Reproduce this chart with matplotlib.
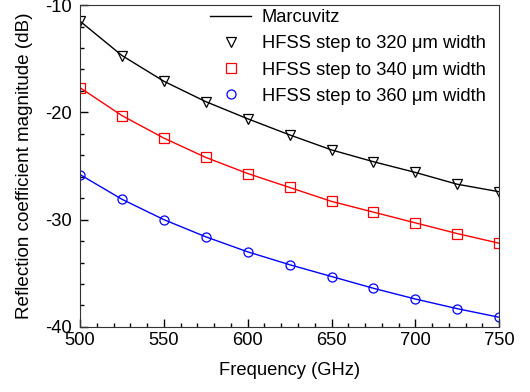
import numpy as np
import matplotlib.pyplot as plt
from matplotlib.ticker import MultipleLocator

plt.rcParams['font.family'] = ['Liberation Sans', 'DejaVu Sans']
plt.rcParams['axes.unicode_minus'] = False

freq = [500, 525, 550, 575, 600, 625, 650, 675, 700, 725, 750]
w320 = [-11.5, -14.7, -17.1, -19.0, -20.6, -22.1, -23.5, -24.6, -25.6, -26.7, -27.4]
w340 = [-17.7, -20.3, -22.4, -24.2, -25.7, -27.0, -28.3, -29.3, -30.3, -31.3, -32.2]
w360 = [-25.8, -28.1, -30.0, -31.6, -33.0, -34.2, -35.3, -36.4, -37.4, -38.3, -39.1]

fs = 13.2

fig = plt.figure(figsize=(5.3, 3.92), dpi=100)
ax = fig.add_axes([0.151, 0.166, 0.791, 0.821])

ax.plot(freq, w320, color='black', lw=1, label='Marcuvitz')
ax.plot(freq, w340, color='red', lw=1)
ax.plot(freq, w360, color='blue', lw=1)
ax.plot(freq, w320, 'v', mfc='none', mec='black', ms=6.5, mew=0.9, ls='none',
        label='HFSS step to 320 \u03bcm width')
ax.plot(freq, w340, 's', mfc='none', mec='red', ms=6.5, mew=0.9, ls='none',
        label='HFSS step to 340 \u03bcm width')
ax.plot(freq, w360, 'o', mfc='none', mec='blue', ms=6.5, mew=0.9, ls='none',
        label='HFSS step to 360 \u03bcm width')

ax.set_xlim(500, 750)
ax.set_ylim(-40, -10)
ax.xaxis.set_major_locator(MultipleLocator(50))
ax.xaxis.set_minor_locator(MultipleLocator(10))
ax.yaxis.set_major_locator(MultipleLocator(10))
ax.yaxis.set_minor_locator(MultipleLocator(2))
ax.tick_params(which='both', direction='in', top=False, right=False, labelsize=fs)
ax.tick_params(axis='x', pad=4)
ax.tick_params(axis='y', pad=6)
ax.tick_params(which='major', length=6, width=1)
ax.tick_params(which='minor', length=3, width=1)
for s in ax.spines.values():
    s.set_color('#333333')

ax.set_xlabel('Frequency (GHz)', fontsize=fs, labelpad=9)
ax.set_ylabel('Reflection coefficient magnitude (dB)', fontsize=13.6, labelpad=9)

ax.legend(loc='upper right', bbox_to_anchor=(0.985, 1.01), frameon=False,
          fontsize=fs, handlelength=2.2, borderaxespad=0, labelspacing=0.5,
          handletextpad=0.6)

fig.savefig('out.png', dpi=100)
